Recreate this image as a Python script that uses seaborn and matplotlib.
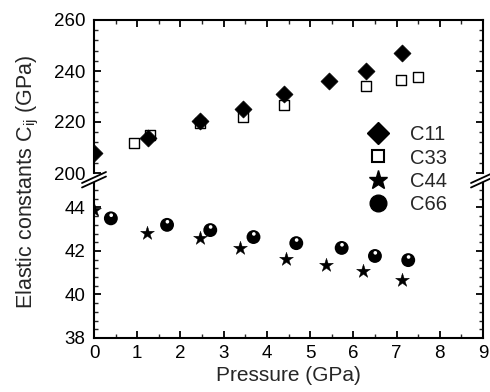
import numpy as np
import pandas as pd
import seaborn as sns
import matplotlib
matplotlib.use("Agg")
import matplotlib.pyplot as plt
from matplotlib.path import Path
from matplotlib.lines import Line2D
from matplotlib.ticker import AutoMinorLocator, MultipleLocator

# ---- data ----
p_c11 = [0.0, 1.25, 2.45, 3.45, 4.40, 5.44, 6.30, 7.13]
c11 = [208.0, 213.7, 220.4, 225.0, 231.0, 236.0, 240.0, 247.0]
p_c33 = [0.92, 1.30, 2.45, 3.45, 4.40, 6.30, 7.10, 7.50]
c33 = [211.8, 215.0, 219.5, 222.0, 226.6, 234.0, 236.5, 237.6]
p_c44 = [0.0, 1.23, 2.45, 3.38, 4.44, 5.37, 6.23, 7.13]
c44 = [43.9, 42.83, 42.60, 42.14, 41.63, 41.36, 41.08, 40.67]
p_c66 = [0.39, 1.69, 2.69, 3.69, 4.68, 5.73, 6.50, 7.27]
c66 = [43.50, 43.20, 42.96, 42.64, 42.36, 42.14, 41.77, 41.58]

labels = ["C11", "C33", "C44", "C66"]
x_ticks = list(range(0, 10))
top_ticks = [200, 220, 240, 260]
bot_ticks = [38, 40, 42, 44]

sns.set_style("ticks")
plt.rcParams["font.family"] = ["Liberation Sans", "DejaVu Sans"]
plt.rcParams["mathtext.fontset"] = "custom"
plt.rcParams["mathtext.rm"] = "Liberation Sans"
plt.rcParams["mathtext.it"] = "Liberation Sans:italic"

fig = plt.figure(figsize=(4.9, 3.92), dpi=100)
L, R = 94 / 490, 483 / 490
ax_t = fig.add_axes([L, 1 - 173 / 392, R - L, (173 - 20) / 392])
ax_b = fig.add_axes([L, 1 - 338 / 392, R - L, (338 - 182) / 392])

# circle marker with a small white highlight
outer = Path.circle((0, 0), 1.0)
inner = Path.circle((0.05, 0.45), 0.26)
inner_rev = Path(inner.vertices[::-1].copy(),
                 [Path.MOVETO] + [Path.CURVE4] * (len(inner.vertices) - 2) + [Path.CLOSEPOLY])
ball = Path.make_compound_path(outer, inner_rev)

df11 = pd.DataFrame({"P": p_c11, "C": c11})
df33 = pd.DataFrame({"P": p_c33, "C": c33})
df44 = pd.DataFrame({"P": p_c44, "C": c44})
df66 = pd.DataFrame({"P": p_c66, "C": c66})

sns.scatterplot(data=df33, x="P", y="C", ax=ax_t, marker="s", s=50,
                facecolor="white", edgecolor="black", linewidth=1.0, zorder=3)
sns.scatterplot(data=df11, x="P", y="C", ax=ax_t, marker="D", s=75,
                color="black", edgecolor="black", linewidth=0.5, zorder=4)
sns.scatterplot(data=df44, x="P", y="C", ax=ax_b, marker="*", s=110,
                color="black", edgecolor="black", linewidth=0.3, zorder=3)
sns.scatterplot(data=df66, x="P", y="C", ax=ax_b, marker=ball, s=100,
                color="black", edgecolor="none", linewidth=0, zorder=3)

for ax in (ax_t, ax_b):
    ax.set_xlim(0, 9)
    ax.set_xlabel("")
    ax.set_ylabel("")
    ax.xaxis.set_major_locator(MultipleLocator(1))
    ax.xaxis.set_minor_locator(MultipleLocator(0.5))
    ax.yaxis.set_minor_locator(AutoMinorLocator(5))
    for s in ax.spines.values():
        s.set_linewidth(1.5)
        s.set_color("black")
    ax.tick_params(which="major", direction="in", length=5, width=1.3,
                   labelsize=13.5, colors="black")
    ax.tick_params(which="minor", direction="in", length=3, width=1.0)
    ax.tick_params(axis="y", which="major", pad=6)
    ax.tick_params(axis="x", which="major", pad=5)

ax_t.set_ylim(200, 260)
ax_t.set_yticks(top_ticks)
ax_t.spines["bottom"].set_visible(False)
ax_t.tick_params(which="both", top=True, bottom=False, right=True, left=True,
                 labelbottom=False)

ax_b.set_ylim(38, 45.17)
ax_b.set_yticks(bot_ticks)
ax_b.spines["top"].set_visible(False)
ax_b.tick_params(which="both", top=False, bottom=True, right=True, left=True)
ax_b.set_xticks(x_ticks)
ax_b.set_xlabel("Pressure (GPa)", fontsize=15, labelpad=3)

fig.text(0.058, 0.537, r"Elastic constants C$_{\mathregular{ij}}$ (GPa)",
         rotation=90, ha="center", va="center", fontsize=15.5)

# axis-break marks
for xc in (L, R):
    for dy in (0.0, -4.5):
        x0 = xc * 490 - 12
        x1 = xc * 490 + 12
        y0 = 183 - dy
        y1 = 172 - dy
        fig.add_artist(Line2D([x0 / 490, x1 / 490], [1 - y0 / 392, 1 - y1 / 392],
                              transform=fig.transFigure, color="black", lw=1.3))
    fig.add_artist(Line2D([(xc * 490 - 10) / 490, (xc * 490 + 10) / 490],
                          [1 - 184.5 / 392, 1 - 175.5 / 392], transform=fig.transFigure,
                          color="white", lw=2.2, zorder=0.5))

handles = [
    Line2D([], [], ls="none", marker="D", ms=11, color="black"),
    Line2D([], [], ls="none", marker="s", ms=9, mfc="white", mec="black", mew=1.5),
    Line2D([], [], ls="none", marker="*", ms=14, color="black"),
    Line2D([], [], ls="none", marker="o", ms=12, color="black"),
]
fig.legend(handles, labels, loc="upper left", bbox_to_anchor=(352 / 490, 1 - 111 / 392),
           frameon=False, fontsize=14.5, handlelength=1.2, handletextpad=1.0,
           labelspacing=0.22, borderpad=0.2)

fig.savefig("out.png", dpi=100)
